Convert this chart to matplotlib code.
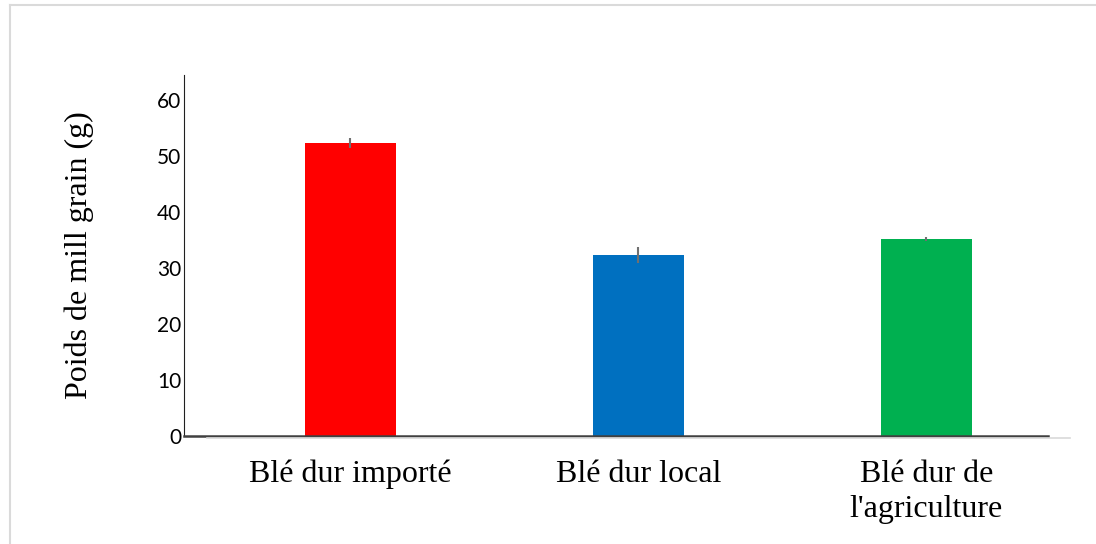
import matplotlib
matplotlib.use('Agg')
import matplotlib.pyplot as plt
from matplotlib.lines import Line2D

categories = ["Blé dur importé", "Blé dur local", "Blé dur de\nl'agriculture"]
poids = [52.3, 32.3, 35.2]
erreurs = [0.9, 1.4, 0.3]
couleurs = ["#FF0000", "#0070C0", "#00B050"]
yticks = [0, 10, 20, 30, 40, 50, 60]

W, H = 1096, 544
fig = plt.figure(figsize=(W / 100, H / 100), dpi=100)
ax = fig.add_axes([184 / W, 1 - 436 / H, (1048 - 184) / W, (436 - 75) / H])

x = range(len(categories))
ax.bar(x, poids, width=0.316, color=couleurs, yerr=erreurs,
       error_kw=dict(ecolor='#707070', elinewidth=1.5, capsize=0))

ax.set_xlim(-0.578, 2.422)
ax.set_ylim(0, 64.5)
ax.set_yticks(yticks)
ax.set_yticklabels([str(v) for v in yticks], fontfamily='Lato', fontsize=15)
ax.set_xticks(list(x))
ax.set_xticklabels(categories, fontfamily='Liberation Serif', fontsize=23,
                   linespacing=1.3)
ax.tick_params(axis='both', length=0)
ax.tick_params(axis='x', pad=17)
ax.tick_params(axis='y', pad=2)

ax.spines['top'].set_visible(False)
ax.spines['right'].set_visible(False)
ax.spines['left'].set_color('#202020')
ax.spines['bottom'].set_color('#404040')
ax.spines['bottom'].set_linewidth(1.8)

ax.set_ylabel("Poids de mill grain (g)", fontfamily='Liberation Serif',
              fontsize=23, labelpad=45)

# light shadow under the baseline
fig.add_artist(Line2D([207 / W, 1070 / W], [1 - 438 / H, 1 - 438 / H],
                      color='#D9D9D9', lw=1.2))
# frame around the chart area
fig.add_artist(Line2D([9.5 / W, 9.5 / W], [0, 1 - 4.5 / H], color='#DADADA', lw=1.5))
fig.add_artist(Line2D([9.5 / W, 1], [1 - 4.5 / H, 1 - 4.5 / H], color='#DADADA', lw=1.5))

fig.savefig('out.png', dpi=100)
